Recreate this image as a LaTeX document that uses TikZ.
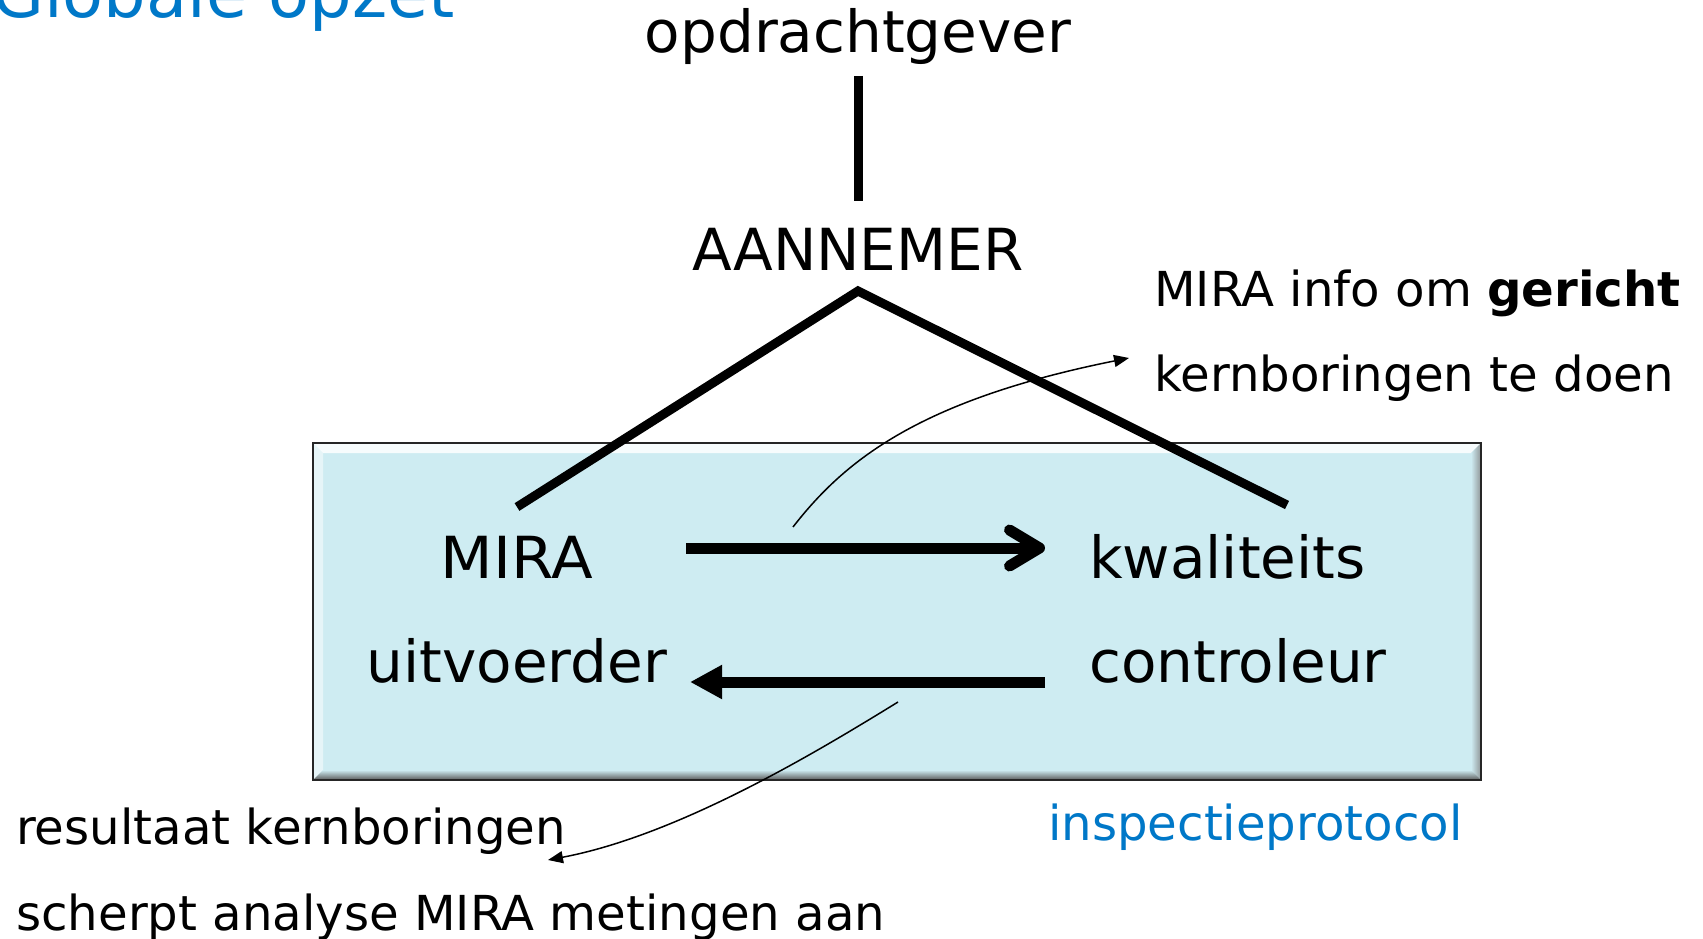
\documentclass[tikz,border=0pt]{standalone}
\usepackage{fontspec}
\setmainfont{DejaVu Sans}
\usetikzlibrary{arrows.meta}
\definecolor{boxfill}{RGB}{206,236,242}
\definecolor{titleblue}{RGB}{0,120,200}
\tikzset{
  big/.style={font=\fontsize{58}{60}\selectfont, inner sep=0pt},
  mid/.style={font=\fontsize{48.2}{50}\selectfont, inner sep=0pt},
  heavy/.style={line width=9pt},
  flowright/.style={line width=11pt, -{Straight Barb[length=30pt,width=36pt,round]}},
  flowleft/.style={line width=11pt, -{Triangle[length=32pt,width=32pt]}},
  thinarrow/.style={line width=1.5pt, -{Triangle[length=15pt,width=12pt]}},
}
\begin{document}
\begin{tikzpicture}[x=1pt,y=-1pt]
\useasboundingbox (0,0) rectangle (1703,939);
\clip (0,0) rectangle (1703,939);
\fill[white] (0,0) rectangle (1703,939);

% title
\node[font=\fontsize{67}{70}\selectfont, text=titleblue, anchor=base east, inner sep=0pt] (title) at (455,18) {Globale opzet};

% box with bevel
\node[fill=boxfill, minimum width=1168pt, minimum height=337pt, inner sep=0pt, anchor=north west] (box) at (313,443) {};
\fill[white, opacity=0.85] (313,443) -- (1481,443) -- (1471,453) -- (323,453) -- cycle;
\fill[white, opacity=0.5] (313,443) -- (323,453) -- (323,770) -- (313,780) -- cycle;
\shade[left color=boxfill, right color=gray!80!boxfill] (1481,443) -- (1481,780) -- (1471,770) -- (1471,453) -- cycle;
\shade[top color=boxfill, bottom color=gray!70!black] (313,780) -- (1481,780) -- (1471,770) -- (323,770) -- cycle;
\draw[line width=2pt, black!85] (box.north west) rectangle (box.south east);

% text nodes
\node[big, anchor=base] (opdr) at (858,53) {opdrachtgever};
\node[big, anchor=base] (aann) at (858,270) {AANNEMER};
\node[big, anchor=base, xscale=1.05] (mira) at (517,578) {MIRA};
\node[big, anchor=base] (uitv) at (517,682) {uitvoerder};
\node[big, anchor=base west] (kwal) at (1089,578) {kwaliteits};
\node[big, anchor=base west] (contr) at (1089,682) {controleur};
\node[mid, anchor=base west] (info1) at (1154,306) {MIRA info om \textbf{gericht}};
\node[mid, anchor=base west] (info2) at (1154,391) {kernboringen te doen};
\node[mid, anchor=base west] (res1) at (16,844) {resultaat kernboringen};
\node[mid, anchor=base west] (res2) at (16,930) {scherpt analyse MIRA metingen aan};
\node[mid, anchor=base west, text=titleblue] (insp) at (1048,840) {inspectieprotocol};

% connector end points
\coordinate (vtop) at (858,76);
\coordinate (vbot) at (858,201);
\coordinate (apex) at (858,291);
\coordinate (leftend) at (517,507);
\coordinate (rightend) at (1287,505);
\coordinate (r1) at (686,548);
\coordinate (r2) at (1045,548);
\coordinate (l1) at (1045,682);
\coordinate (l2) at (690,682);
\coordinate (c1s) at (793,527);
\coordinate (c1e) at (1129,358);
\coordinate (c2s) at (898,702);
\coordinate (c2e) at (548,860);

% heavy lines
\draw[heavy] (vtop) -- (vbot);
\draw[heavy, line join=miter] (leftend) -- (apex) -- (rightend);

% flow arrows
\draw[flowright] (r1) -- (r2);
\draw[flowleft] (l1) -- (l2);

% thin annotation arrows
\draw[thinarrow] (c1s) .. controls (845,460) and (920,400) .. (c1e);
\draw[thinarrow] (c2s) .. controls (820,750) and (680,835) .. (c2e);
\end{tikzpicture}
\end{document}
